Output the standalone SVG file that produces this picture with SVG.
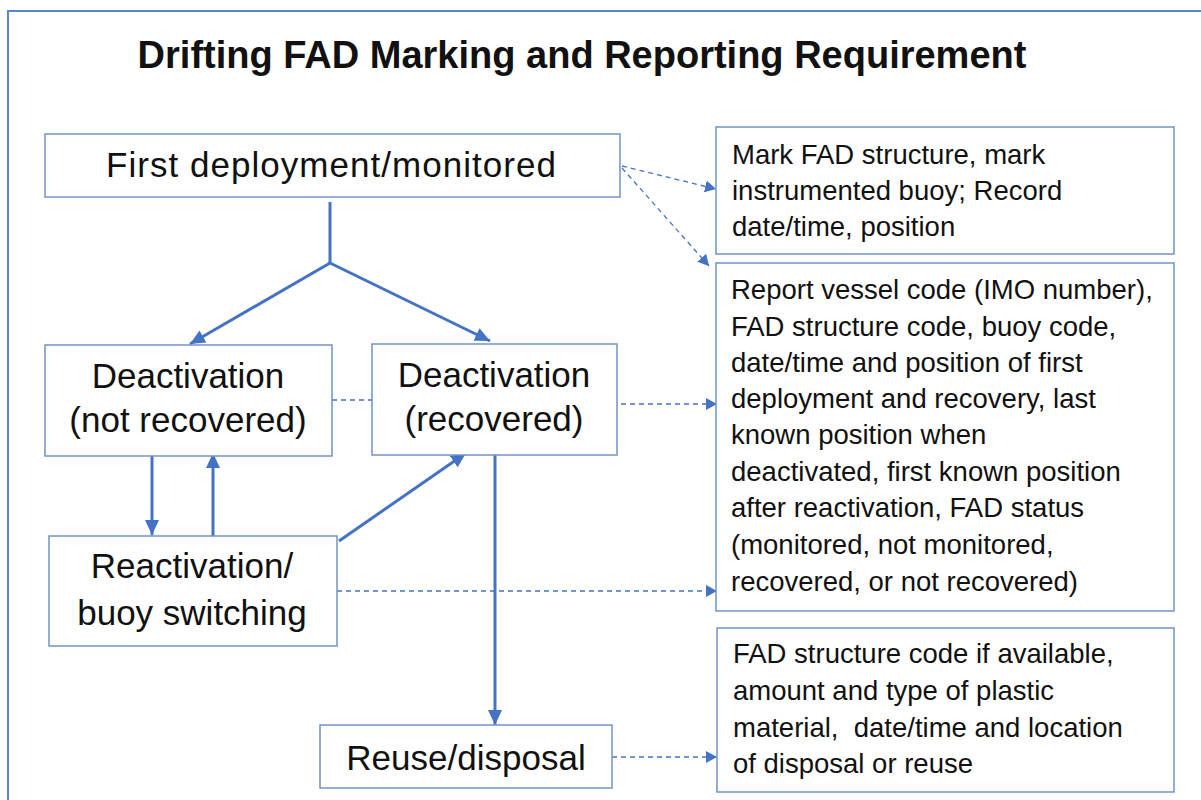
<svg xmlns="http://www.w3.org/2000/svg" width="1201" height="800" viewBox="0 0 1201 800">
<style>
.box{fill:#fff;stroke:#7293C6;stroke-width:1.5}
.lbl{font-family:"Liberation Sans",Arial,sans-serif;font-size:35px;fill:#111;text-anchor:middle}
.note{font-family:"Liberation Sans",Arial,sans-serif;font-size:27.5px;fill:#111}
.title{font-family:"Liberation Sans",Arial,sans-serif;font-size:38px;font-weight:bold;fill:#111;text-anchor:middle}
.solid{stroke:#4472C4;stroke-width:3;fill:none}
.dash{stroke:#4472C4;stroke-width:1.3;fill:none;stroke-dasharray:5 4}
</style>
<defs>
<marker id="ah" markerUnits="userSpaceOnUse" markerWidth="16" markerHeight="14" refX="15" refY="7" orient="auto">
<path d="M0,0 L15,7 L0,14 z" fill="#4472C4"/>
</marker>
<marker id="ahs" markerUnits="userSpaceOnUse" markerWidth="12" markerHeight="12" refX="11" refY="6" orient="auto">
<path d="M0,0 L11,6 L0,12 z" fill="#4472C4"/>
</marker>
</defs>
<rect x="0" y="0" width="1201" height="800" fill="#fff"/>
<rect x="8" y="11" width="1210" height="810" fill="none" stroke="#5B86C6" stroke-width="2"/>
<text class="title" x="582" y="68">Drifting FAD Marking and Reporting Requirement</text>

<g id="connectors">
<path class="solid" d="M330,202 L330,263"/>
<path class="solid" d="M330,263 L190,344" marker-end="url(#ah)"/>
<path class="solid" d="M330,263 L490,341" marker-end="url(#ah)"/>
<path class="solid" d="M152,453 L152,535" marker-end="url(#ah)"/>
<path class="solid" d="M213,543 L213,453" marker-end="url(#ah)"/>
<path class="solid" d="M339,541 L466,453" marker-end="url(#ah)"/>
<path class="solid" d="M495,453 L495,725" marker-end="url(#ah)"/>
<path class="dash" d="M332,400 L372,400"/>
<path class="dash" d="M622,166 L716,189" marker-end="url(#ahs)"/>
<path class="dash" d="M622,168 L709,266" marker-end="url(#ahs)"/>
<path class="dash" d="M612,404 L717,404" marker-end="url(#ahs)"/>
<path class="dash" d="M337,591 L717,591" marker-end="url(#ahs)"/>
<path class="dash" d="M612,757 L717,757" marker-end="url(#ahs)"/>
</g>

<g id="first">
<rect class="box" x="45" y="134" width="575" height="63"/>
<text class="lbl" x="331" y="177" textLength="450" lengthAdjust="spacing">First deployment/monitored</text>
</g>
<g id="deact-not">
<rect class="box" x="45" y="345" width="287" height="111"/>
<text class="lbl" x="188" y="388">Deactivation</text>
<text class="lbl" x="188" y="432">(not recovered)</text>
</g>
<g id="deact-rec">
<rect class="box" x="372" y="344" width="245" height="111"/>
<text class="lbl" x="494" y="387">Deactivation</text>
<text class="lbl" x="494" y="431">(recovered)</text>
</g>
<g id="reactivation">
<rect class="box" x="49" y="536" width="288" height="110"/>
<text class="lbl" x="192" y="578">Reactivation/</text>
<text class="lbl" x="192" y="625">buoy switching</text>
</g>
<g id="reuse">
<rect class="box" x="320" y="725" width="292" height="63"/>
<text class="lbl" x="466" y="770">Reuse/disposal</text>
</g>
<g id="note-mark">
<rect class="box" x="716" y="127" width="458" height="127"/>
<text class="note" x="732" y="164">Mark FAD structure, mark</text>
<text class="note" x="732" y="200">instrumented buoy; Record</text>
<text class="note" x="732" y="236">date/time, position</text>
</g>
<g id="note-report">
<rect class="box" x="716" y="263" width="458" height="348"/>
<text class="note" x="731" y="299">Report vessel code (IMO number),</text>
<text class="note" x="731" y="336">FAD structure code, buoy code,</text>
<text class="note" x="731" y="372">date/time and position of first</text>
<text class="note" x="731" y="408">deployment and recovery, last</text>
<text class="note" x="731" y="444">known position when</text>
<text class="note" x="731" y="481">deactivated, first known position</text>
<text class="note" x="731" y="517">after reactivation, FAD status</text>
<text class="note" x="731" y="554">(monitored, not monitored,</text>
<text class="note" x="731" y="591">recovered, or not recovered)</text>
</g>
<g id="note-disposal">
<rect class="box" x="717" y="628" width="457" height="164"/>
<text class="note" x="733" y="663">FAD structure code if available,</text>
<text class="note" x="733" y="700">amount and type of plastic</text>
<text class="note" x="733" y="737" xml:space="preserve">material,  date/time and location</text>
<text class="note" x="733" y="773">of disposal or reuse</text>
</g>
</svg>
